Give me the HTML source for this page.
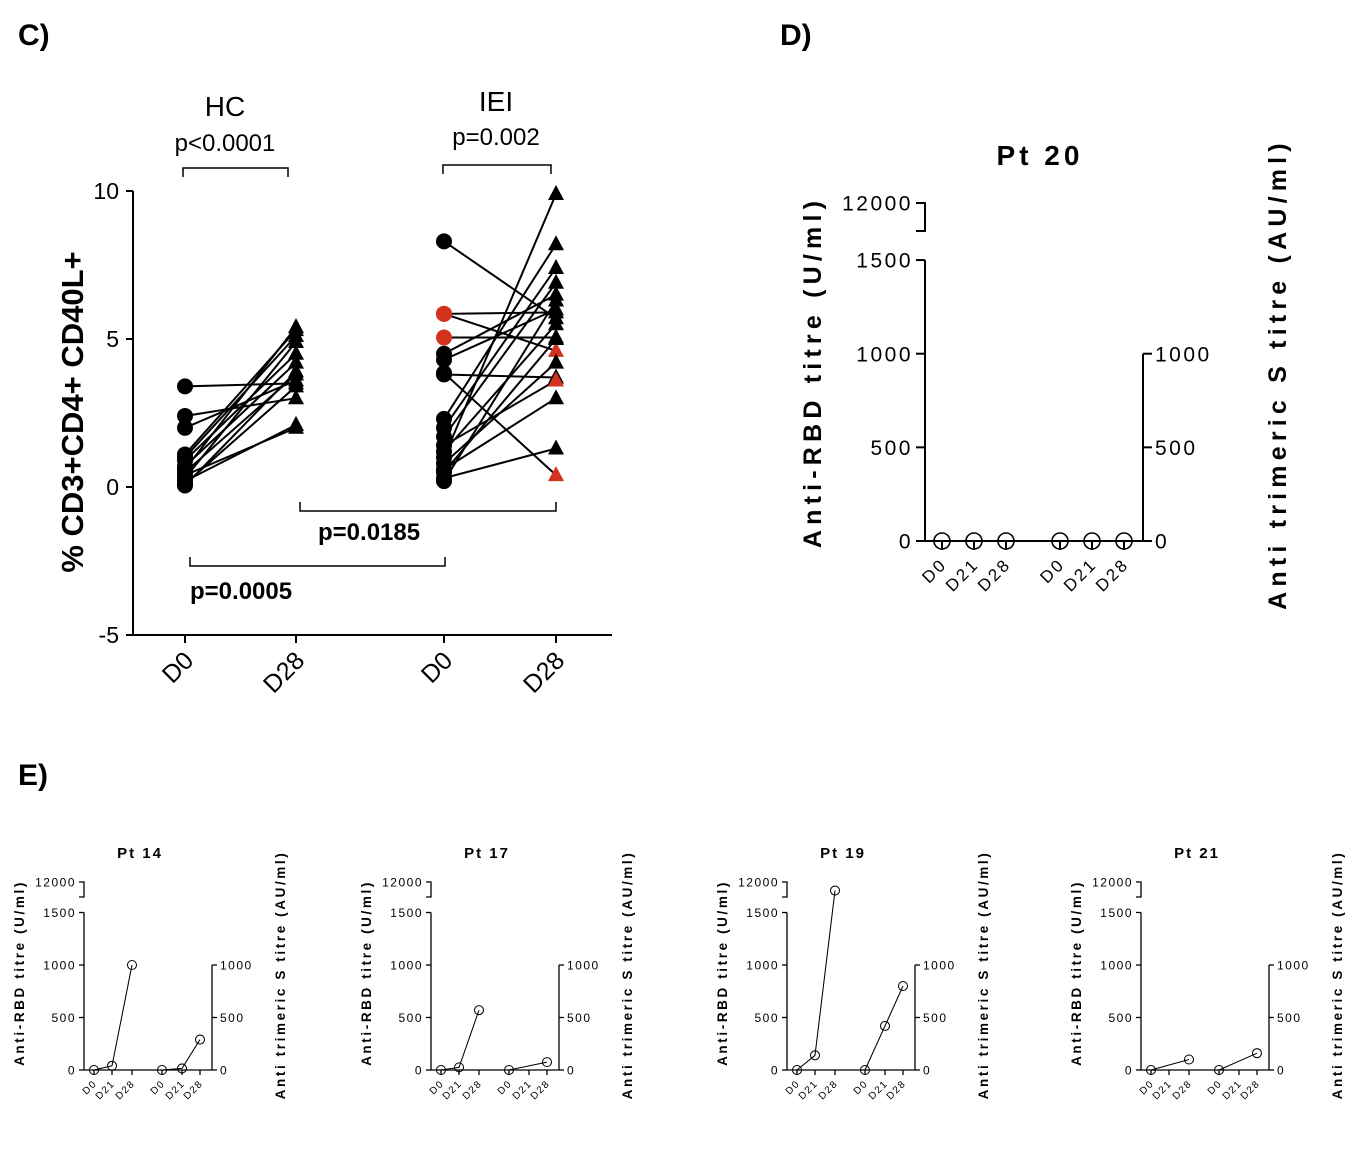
<!DOCTYPE html>
<html><head><meta charset="utf-8">
<style>
html,body{margin:0;padding:0;background:#fff;}
svg{display:block;font-family:"Liberation Sans",Arial,sans-serif;}
</style></head>
<body>
<svg id="fig" width="1349" height="1172" viewBox="0 0 1349 1172" xmlns="http://www.w3.org/2000/svg">
<text x="18" y="45" font-size="30" font-weight="bold">C)</text>
<text x="780" y="45" font-size="30" font-weight="bold">D)</text>
<text x="18" y="785" font-size="30" font-weight="bold">E)</text>
<g id="pc"></g>
<g id="pd"></g>
<g id="pe"></g>
</svg>
<script>
// ---- Panel C data ----
const cCategories = ["D0","D28","D0","D28"];
const cTicks = [10,5,0,-5];
const hcD0 = [3.4,2.4,2.0,1.1,1.0,0.9,0.7,0.6,0.5,0.4,0.3,0.2,0.1,0.05];
const hcD28 = [3.5,3.0,3.6,5.3,5.1,4.5,4.2,5.4,3.8,2.0,4.9,2.1,3.4,3.9];
const ieiD0 = [8.3,5.85,5.85,5.05,4.5,4.3,3.8,3.85,2.3,2.0,1.7,1.4,1.2,1.0,0.8,0.6,0.5,0.3,0.2];
const ieiD28 = [5.7,5.9,4.6,5.05,6.5,6.0,3.7,0.4,8.2,7.4,6.9,3.6,5.5,9.9,4.2,3.0,5.0,1.3,6.3];
const ieiD0Red = [0,1,1,1,0,0,0,0,0,0,0,0,0,0,0,0,0,0,0];
const ieiD28Red = [0,0,1,0,0,0,0,1,0,0,0,1,0,0,0,0,0,0,0];
// ---- Panel D/E data ----
const timeLabels = ["D0","D21","D28"];
const pt20RBD = [0,0,0];
const pt20S = [0,0,0];
const ePatients = ["Pt 14","Pt 17","Pt 19","Pt 21"];
const eRBD = [[0,40,1000],[0,25,570],[0,140,6000],[0,null,100]];
const eS = [[0,15,290],[0,null,75],[0,420,800],[0,null,160]];
const leftTicks = [0,500,1000,1500];
const rightTicks = [0,500,1000];

const NS="http://www.w3.org/2000/svg";
function mk(parent,tag,attrs,text){const e=document.createElementNS(NS,tag);for(const k in attrs)e.setAttribute(k,attrs[k]);if(text!==undefined)e.textContent=text;parent.appendChild(e);return e;}
const RED="#d4321c";

// ---- Panel C ----
(function(){
  const g=document.getElementById('pc');
  const y=v=>487-v*29.6;
  const xs=[185,296,444,556];
  let e=mk(g,'line',{x1:133,y1:y(10),x2:133,y2:y(-5),stroke:'#000','stroke-width':2});
   
  e=mk(g,'line',{x1:133,y1:635,x2:612,y2:635,stroke:'#000','stroke-width':2});
   
  cTicks.forEach(t=>{
    mk(g,'line',{x1:126,y1:y(t),x2:133,y2:y(t),stroke:'#000','stroke-width':2});
    const tx=mk(g,'text',{x:119,y:y(t)+8,'font-size':23,'text-anchor':'end'},String(t));
     
  });
  cCategories.forEach((c,i)=>{
    mk(g,'line',{x1:xs[i],y1:635,x2:xs[i],y2:643,stroke:'#000','stroke-width':2});
    const tx=mk(g,'text',{x:0,y:0,'font-size':25,'text-anchor':'end',transform:`translate(${xs[i]+10},${662}) rotate(-45)`},c);
     
  });
  const t=mk(g,'text',{x:0,y:0,'font-size':31,'font-weight':'bold','text-anchor':'middle',transform:'translate(83,412) rotate(-90)'},'% CD3+CD4+ CD40L+');
   
  function lines(a,b,x1,x2){a.forEach((v,i)=>{mk(g,'line',{x1:x1,y1:y(v),x2:x2,y2:y(b[i]),stroke:'#000','stroke-width':2});});}
  lines(hcD0,hcD28,xs[0],xs[1]); lines(ieiD0,ieiD28,xs[2],xs[3]);
  function circ(v,x,red,name){const c=mk(g,'circle',{cx:x,cy:y(v),r:8,fill:red?RED:'#000'});}
  function tri(v,x,red,name){const yy=y(v);const p=mk(g,'polygon',{points:`${x-8},${yy+6} ${x+8},${yy+6} ${x},${yy-9}`,fill:red?RED:'#000'});}
  hcD0.forEach(v=>circ(v,xs[0],0,'hc-d0-point'));
  hcD28.forEach(v=>tri(v,xs[1],0,'hc-d28-point'));
  ieiD0.forEach((v,i)=>circ(v,xs[2],ieiD0Red[i],'iei-d0-point'));
  ieiD28.forEach((v,i)=>tri(v,xs[3],ieiD28Red[i],'iei-d28-point'));
  function bracket(x1,x2,yy,dir,name){const p=mk(g,'path',{d:`M${x1},${yy+dir*9}V${yy}H${x2}V${yy+dir*9}`,fill:'none',stroke:'#000','stroke-width':1.5});}
  bracket(183,288,168,1,'hc-bracket'); bracket(443,551,165,1,'iei-bracket');
  bracket(300,556,511,-1,'d28-bracket'); bracket(190,445,566,-1,'d0-bracket');
  const labs=[[225,116,'HC',28,'normal','middle','hc-label'],[225,151,'p<0.0001',24,'normal','middle','hc-pvalue'],
    [496,111,'IEI',28,'normal','middle','iei-label'],[496,145,'p=0.002',24,'normal','middle','iei-pvalue'],
    [318,540,'p=0.0185',24,'bold','start','d28-pvalue'],[190,599,'p=0.0005',24,'bold','start','d0-pvalue']];
  labs.forEach(l=>{const tx=mk(g,'text',{x:l[0],y:l[1],'font-size':l[3],'font-weight':l[4],'text-anchor':l[5]},l[2]);});
})();

// ---- Dual axis titre panel ----
function titrePanel(g,o,title,rbd,s,name){
  const gg=mk(g,'g',{});  
  const y1500=o.y0-1500*o.k;
  const y=v=>v<=1500?o.y0-v*o.k:(o.yBreakBot-(v-1500)/(12000-1500)*(o.yBreakBot-o.yBreakTop));
  const sw=o.sw;
  mk(gg,'line',{x1:o.ax,y1:o.y0,x2:o.ax,y2:y1500,stroke:'#000','stroke-width':sw});
  mk(gg,'path',{d:`M${o.ax-o.tick},${o.yBreakTop}H${o.ax}V${o.yBreakBot}H${o.ax-o.tick}`,fill:'none',stroke:'#000','stroke-width':sw});
  mk(gg,'line',{x1:o.ax,y1:o.y0,x2:o.rx,y2:o.y0,stroke:'#000','stroke-width':sw});
  mk(gg,'line',{x1:o.rx,y1:o.y0,x2:o.rx,y2:o.y0-1000*o.k,stroke:'#000','stroke-width':sw});
  leftTicks.forEach(t=>{mk(gg,'line',{x1:o.ax-o.tick,y1:y(t),x2:o.ax,y2:y(t),stroke:'#000','stroke-width':sw});
    const tx=mk(gg,'text',{x:o.ax-o.tick-3,y:y(t)+o.fs*0.36,'font-size':o.fs,'text-anchor':'end','letter-spacing':o.ls},String(t));
     });
  const t12=mk(gg,'text',{x:o.ax-o.tick-3,y:o.yBreakTop+o.fs*0.36,'font-size':o.fs,'text-anchor':'end','letter-spacing':o.ls},'12000');
   
  rightTicks.forEach(t=>{mk(gg,'line',{x1:o.rx,y1:y(t),x2:o.rx+o.tick,y2:y(t),stroke:'#000','stroke-width':sw});
    const tx=mk(gg,'text',{x:o.rx+o.tick+3,y:y(t)+o.fs*0.36,'font-size':o.fs,'text-anchor':'start','letter-spacing':o.ls},String(t));
     });
  o.xs.forEach((x,i)=>{mk(gg,'line',{x1:x,y1:o.y0,x2:x,y2:o.y0+o.tick,stroke:'#000','stroke-width':sw});
    const tx=mk(gg,'text',{x:0,y:0,'font-size':o.xfs,'text-anchor':'end','letter-spacing':o.ls,transform:`translate(${x+o.xfs*0.35},${o.y0+o.tick+o.xfs*0.9}) rotate(-45)`},timeLabels[i%3]);
     });
  function series(vals,xs,nm){
    const pts=[];vals.forEach((v,i)=>{if(v!==null)pts.push([xs[i],y(v)]);});
    if(pts.length>1)mk(gg,'polyline',{points:pts.map(p=>p.join(',')).join(' '),fill:'none',stroke:'#000','stroke-width':sw*0.8});
    pts.forEach(p=>{const c=mk(gg,'circle',{cx:p[0],cy:p[1],r:o.r,fill:'none',stroke:'#000','stroke-width':sw*0.8});});
  }
  series(rbd,o.xs.slice(0,3),'rbd-point'); series(s,o.xs.slice(3),'s-point');
  const tt=mk(gg,'text',{x:(o.ax+o.rx)/2+o.titleDx,y:o.titleY,'font-size':o.titleFs,'font-weight':'bold','text-anchor':'middle','letter-spacing':o.tls},title);
   
  const lt=mk(gg,'text',{x:0,y:0,'font-size':o.axisFs,'font-weight':'bold','text-anchor':'middle','letter-spacing':o.als,transform:`translate(${o.ltx},${o.cy}) rotate(-90)`},'Anti-RBD titre (U/ml)');
   
  const rt=mk(gg,'text',{x:0,y:0,'font-size':o.axisFs,'font-weight':'bold','text-anchor':'middle','letter-spacing':o.als,transform:`translate(${o.rtx},${o.cy2}) rotate(-90)`},'Anti trimeric S titre (AU/ml)');
   
}
titrePanel(document.getElementById('pd'),{ax:925,rx:1143,y0:541,k:0.1873,yBreakBot:231,yBreakTop:203,
  xs:[942,974,1006,1060,1092,1124],fs:21,xfs:17,tick:9,ls:2.5,sw:2,r:8,titleFs:28,axisFs:25,tls:4,als:5.2,titleY:165,titleDx:6,
  ltx:821,rtx:1286,cy:372,cy2:374},'Pt 20',pt20RBD,pt20S,'pt20-chart');
const eOff=[0,347,703,1057];
ePatients.forEach((p,i)=>{
  const ox=eOff[i];
  titrePanel(document.getElementById('pe'),{ax:84+ox,rx:212+ox,y0:1070,k:0.105,yBreakBot:897,yBreakTop:882,
    xs:[94+ox,112+ox,132+ox,162+ox,182+ox,200+ox],fs:12,xfs:10,tick:5,ls:1.5,sw:1.3,r:4.5,titleFs:15,axisFs:13.5,tls:2,als:2.6,titleY:858,titleDx:-8,
    ltx:24+ox,rtx:285+ox,cy:973,cy2:975},p,eRBD[i],eS[i],'pt-chart-'+p.replace(' ','').toLowerCase());
});
</script>
</body></html>
